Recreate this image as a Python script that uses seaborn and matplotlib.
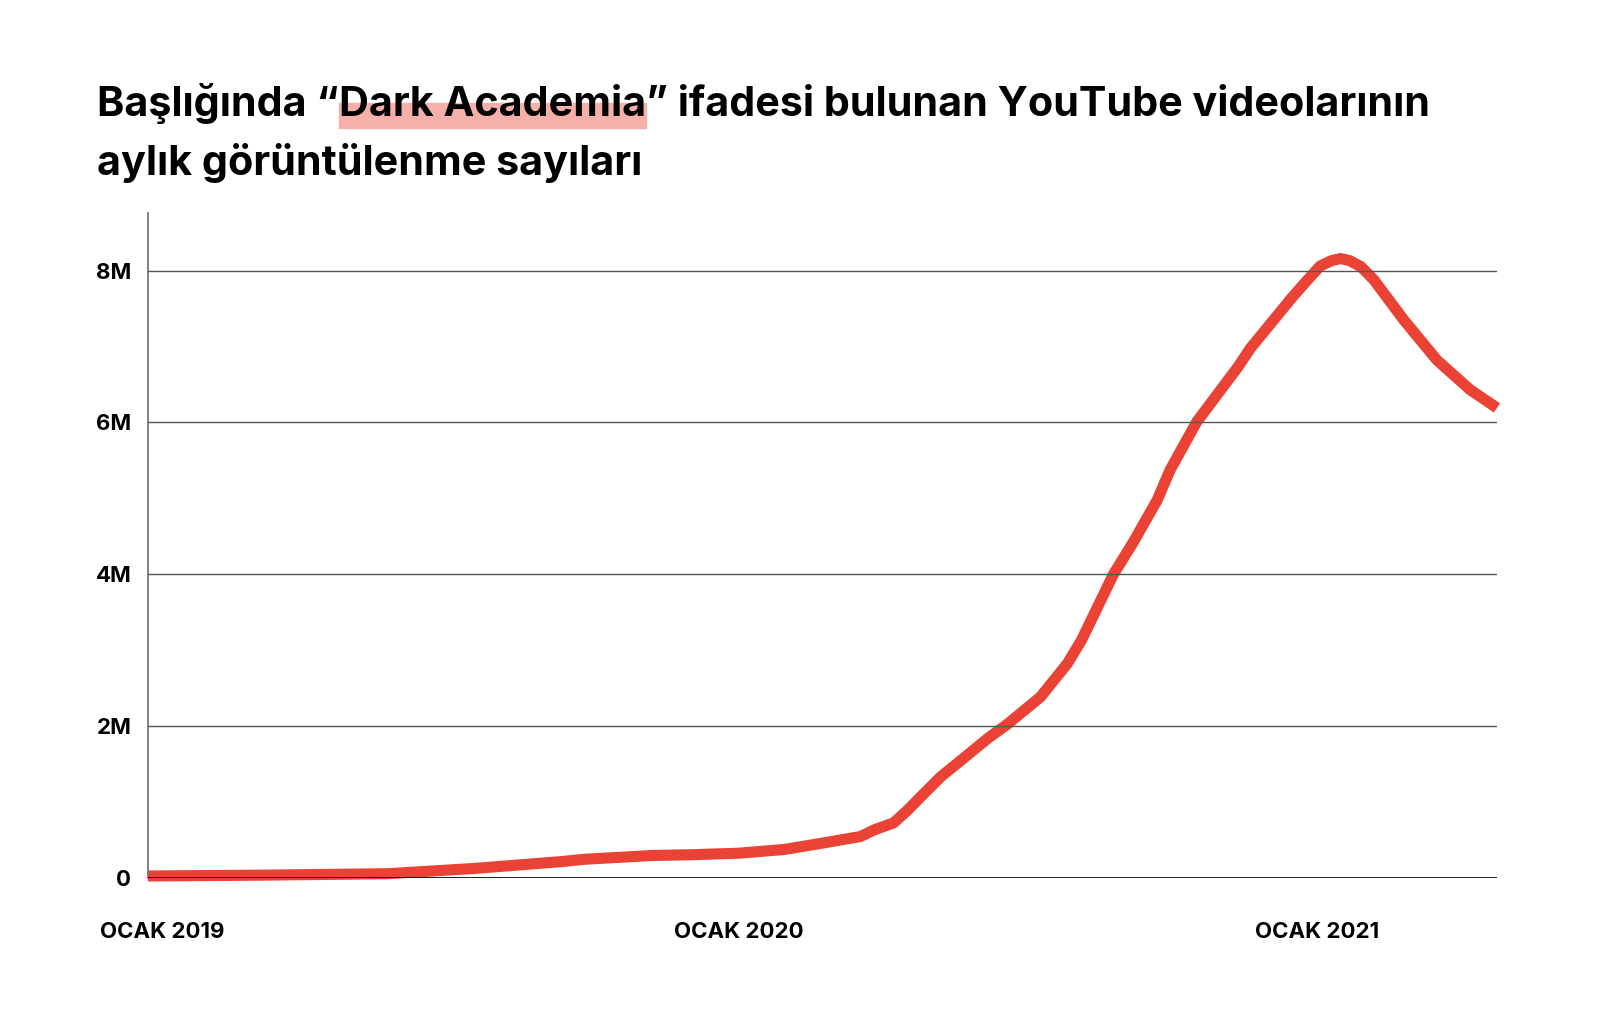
import matplotlib
matplotlib.use("Agg")
import matplotlib.pyplot as plt
from matplotlib.patches import Rectangle
import pandas as pd
import seaborn as sns

# readings, millions of views
dates = [
    "2018-12-23", "2019-03-01", "2019-05-24", "2019-07-18", "2019-09-11",
    "2019-09-25", "2019-11-07", "2019-12-02", "2020-01-01", "2020-01-30",
    "2020-02-22", "2020-03-18", "2020-03-27", "2020-04-08", "2020-04-17",
    "2020-04-25", "2020-05-08", "2020-05-21", "2020-06-07", "2020-06-19",
    "2020-07-10", "2020-07-27", "2020-08-05", "2020-08-25", "2020-09-07",
    "2020-09-22", "2020-09-30", "2020-10-17", "2020-11-12", "2020-11-20",
    "2020-12-03", "2020-12-16", "2020-12-24", "2021-01-03", "2021-01-10",
    "2021-01-16", "2021-01-22", "2021-01-29", "2021-02-06", "2021-02-25",
    "2021-03-18", "2021-04-08", "2021-04-25",
]
views_m = [
    0.02, 0.03, 0.05, 0.12, 0.21,
    0.24, 0.29, 0.30, 0.32, 0.37,
    0.45, 0.54, 0.63, 0.72, 0.89,
    1.06, 1.33, 1.55, 1.84, 2.02,
    2.38, 2.82, 3.13, 3.99, 4.43,
    4.98, 5.37, 6.01, 6.73, 6.98,
    7.31, 7.64, 7.83, 8.06, 8.13,
    8.16, 8.13, 8.05, 7.88, 7.35,
    6.82, 6.43, 6.19,
]
ytick_vals = [0, 2, 4, 6, 8]
ytick_labels = ["0", "2M", "4M", "6M", "8M"]
xtick_dates = ["2019-01-01", "2020-01-01", "2021-01-01"]
xtick_labels = ["OCAK 2019", "OCAK 2020", "OCAK 2021"]
title_parts = ["Başlığında “", "Dark Academia", "” ifadesi bulunan YouTube videolarının"]
title_line2 = "aylık görüntülenme sayıları"

RED = "#EA4335"
HIGHLIGHT = "#F6B0AA"
W, H = 1600, 1031

sns.set_style("white")
plt.rcParams["font.family"] = ["Inter", "DejaVu Sans"]

df = pd.DataFrame({"date": pd.to_datetime(dates), "views": [v * 1e6 for v in views_m]})

fig = plt.figure(figsize=(W / 100, H / 100), dpi=100)
ax = fig.add_axes([148 / W, 1 - 877.5 / H, (1497 - 148) / W, (877.5 - 213) / H])

sns.lineplot(
    data=df, x="date", y="views", color=RED, linewidth=8, ax=ax,
    clip_on=False, solid_capstyle="butt", solid_joinstyle="round",
)

ax.set_xlim(df["date"].min(), df["date"].max())
ax.set_ylim(0, 8.76e6)
ax.set_axisbelow(False)
ax.set_yticks([v * 1e6 for v in ytick_vals])
ax.set_yticklabels(ytick_labels, fontsize=16, fontweight="bold")
ax.set_xticks(pd.to_datetime(xtick_dates))
ax.set_xticklabels(xtick_labels, fontsize=16, fontweight="bold")
ax.tick_params(axis="y", length=0, pad=12, labelcolor="black")
ax.tick_params(axis="x", length=0, pad=32, labelcolor="black")
ax.yaxis.grid(True, color="#555555", linewidth=1.0)
ax.xaxis.grid(False)
ax.axhline(0, color="black", linewidth=1.2, zorder=3)
ax.set_xlabel("")
ax.set_ylabel("")
for side in ["top", "right", "bottom"]:
    ax.spines[side].set_visible(False)
ax.spines["left"].set_color("#777777")
ax.spines["left"].set_linewidth(1.3)

# title, pieced together so "Dark Academia" can get its marker highlight
renderer = fig.canvas.get_renderer()
title_left, title_right = 97, 1432
probe = fig.text(0, 0, "".join(title_parts), fontsize=30, fontweight="bold")
pw = probe.get_window_extent(renderer).width
probe.remove()
tsize = 30 * (title_right - title_left) / pw

tkw = dict(fontsize=tsize, fontweight="bold", va="baseline", ha="left", color="black", zorder=3)
y1 = 1 - 116 / H
x = title_left / W
boxes = []
for part in title_parts:
    t = fig.text(x, y1, part, **tkw)
    bb = t.get_window_extent(renderer)
    boxes.append(bb)
    x = bb.x1 / W
hb = boxes[1]
fig.add_artist(Rectangle(
    (hb.x0 / W, 1 - 128 / H), (hb.x1 - hb.x0) / W, 25 / H,
    transform=fig.transFigure, color=HIGHLIGHT, zorder=1,
))
fig.text(title_left / W, 1 - 175 / H, title_line2, **tkw)

fig.savefig("out.png", dpi=100)
